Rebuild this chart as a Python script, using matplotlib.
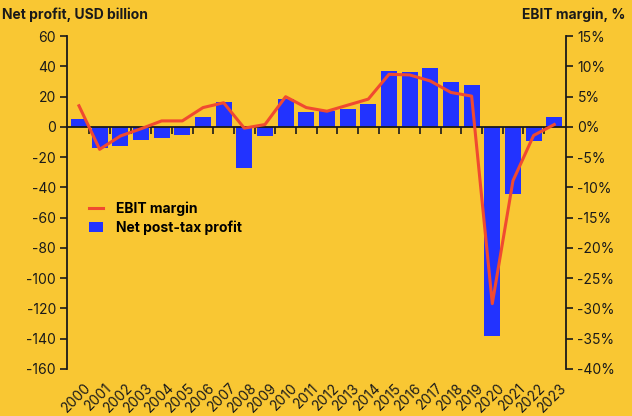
import matplotlib
matplotlib.use("Agg")
from matplotlib import pyplot as plt
from matplotlib.lines import Line2D
from matplotlib.patches import Patch

plt.rcParams['font.family'] = ['Inter', 'DejaVu Sans']
plt.rcParams['axes.unicode_minus'] = False   # plain hyphen, as in the original

years = [str(y) for y in range(2000, 2024)]
net_profit = [5, -14, -12.5, -8.6, -7, -5.5, 6.4, 16.3, -27, -6, 18.2, 9.7,
              10.3, 11.6, 15, 36.7, 36, 39.3, 29.4, 28, -138.4, -44, -9, 6.4]
ebit_margin = [3.5, -3.7, -1.5, -0.3, 1, 1, 3.2, 4, -0.2, 0.4, 5, 3.2,
               2.6, 3.6, 4.6, 8.7, 8.6, 7.6, 5.7, 5.1, -29.2, -8.9, -1.4, 0.4]

BG = '#F9C733'
BLUE = '#2233FF'
RED = '#F04A30'
INK = '#1a1a1a'

fig = plt.figure(figsize=(6.32, 4.16), dpi=100, facecolor=BG)
ax = fig.add_axes([0.106, 0.113, 0.79, 0.80])
ax.set_facecolor(BG)
x = list(range(len(years)))

ax.bar(x, net_profit, width=0.78, color=BLUE, zorder=2)
ax.set_xlim(-0.58, len(years) - 0.42)
ax.set_ylim(-160, 60)
ax.set_yticks(range(-160, 61, 20))
ax.tick_params(axis='y', length=5, width=1.2, color=INK, labelsize=10, labelcolor=INK, pad=3)

# zero line with ticks between the bars
ax.spines['bottom'].set_position(('data', 0))
ax.spines['top'].set_visible(False)
ax.spines['right'].set_visible(False)
for s in ['left', 'bottom']:
    ax.spines[s].set_linewidth(1.3)
    ax.spines[s].set_color(INK)
ax.set_xticks([i + 0.5 for i in range(len(years) - 1)])
ax.set_xticklabels([])
ax.tick_params(axis='x', length=5, width=1.2, color=INK, direction='out')
for i, yr in enumerate(years):
    ax.text(i + 0.25, -0.035, yr, transform=ax.get_xaxis_transform(), rotation=45,
            ha='right', va='top', rotation_mode='anchor', fontsize=10, color=INK)

ax2 = ax.twinx()
ax2.plot(x, ebit_margin, color=RED, linewidth=2.2, zorder=3)
ax2.set_ylim(-40, 15)
ax2.set_yticks(range(-40, 16, 5))
ax2.set_yticklabels([f'{v}%' for v in range(-40, 16, 5)])
ax2.tick_params(axis='y', length=5, width=1.2, color=INK, labelsize=10, labelcolor=INK, pad=3)
for s in ['top', 'left', 'bottom']:
    ax2.spines[s].set_visible(False)
ax2.spines['right'].set_linewidth(1.3)
ax2.spines['right'].set_color(INK)

handles = [Line2D([0], [0], color=RED, linewidth=2.2),
           Patch(facecolor=BLUE, edgecolor='none')]
leg = ax2.legend(handles, ['EBIT margin', 'Net post-tax profit'], loc='upper left',
                 bbox_to_anchor=(0.02, 0.54), frameon=False, handlelength=1.0,
                 handletextpad=0.9, labelspacing=0.3,
                 prop={'weight': 'bold', 'size': 10})

fig.text(0.003, 0.965, 'Net profit, USD billion', fontsize=10, fontweight='bold',
         color=INK, ha='left', va='center')
fig.text(0.99, 0.965, 'EBIT margin, %', fontsize=10, fontweight='bold',
         color=INK, ha='right', va='center')

fig.savefig('out.png', dpi=100, facecolor=BG)
